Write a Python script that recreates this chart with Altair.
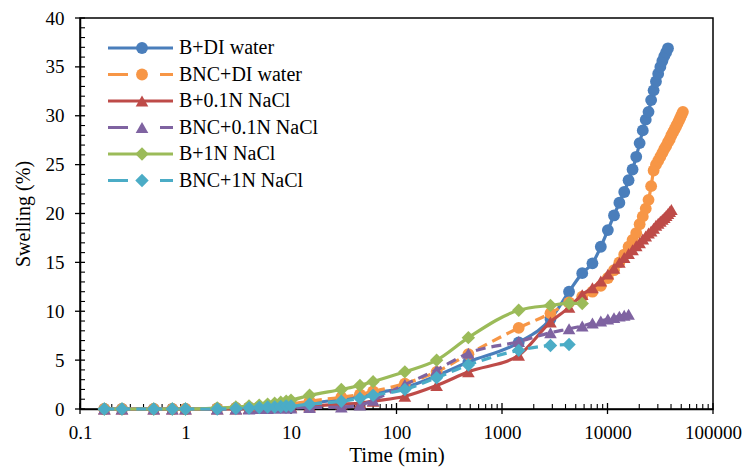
import altair as alt
import pandas as pd

# ---------------- data ----------------
series_names = ["B+DI water", "BNC+DI water", "B+0.1N NaCl",
                "BNC+0.1N NaCl", "B+1N NaCl", "BNC+1N NaCl"]

early_t = [0.17, 0.25, 0.5, 0.75, 1, 2, 3, 4, 5, 6, 7, 8, 9, 10,
           15, 30, 45, 60, 120, 240, 480]
days_min = [1440, 2880, 4320, 5760, 7200, 8640, 10080, 11520, 12960, 14400,
            15840, 17280, 18720, 20160, 21600, 23040, 24480, 25920, 27360, 28800,
            30240, 31680, 33120, 34560, 36000, 37440, 38880, 40320, 41760, 43200,
            44640, 46080, 47520, 48960, 50400, 51840]

b_di_early = [0, 0, 0, 0, 0, 0.05, 0.1, 0.15, 0.2, 0.25, 0.3, 0.35, 0.4, 0.45,
              0.6, 1.0, 1.3, 1.6, 2.2, 3.4, 4.8]
b_di_days = [6.8, 9.2, 12.0, 13.9, 14.9, 16.6, 18.3, 19.8, 21.1, 22.2, 23.4,
             24.5, 25.8, 27.2, 28.5, 29.6, 30.4, 31.6, 32.6, 33.5, 34.3, 35.0,
             35.6, 36.1, 36.5, 36.9]

bnc_di_early = [0, 0, 0, 0, 0, 0.05, 0.1, 0.15, 0.2, 0.3, 0.35, 0.4, 0.45, 0.5,
                0.8, 1.2, 1.5, 1.8, 2.6, 3.8, 5.6]
bnc_di_days = [8.3, 9.8, 10.9, 11.5, 12.0, 12.6, 13.4, 14.2, 15.0, 15.8, 16.6,
               17.3, 18.0, 18.9, 19.7, 20.5, 21.4, 22.8, 24.4, 25.0, 25.4, 25.8,
               26.2, 26.6, 26.9, 27.3, 27.6, 28.0, 28.3, 28.6, 28.9, 29.2, 29.5,
               29.8, 30.1, 30.4]

b_01_early = [0, 0, 0, 0, 0, 0, 0, 0.05, 0.1, 0.1, 0.15, 0.15, 0.2, 0.2,
              0.3, 0.5, 0.6, 0.8, 1.3, 2.4, 3.8]
b_01_days = [5.5, 8.9, 10.4, 11.7, 12.4, 13.1, 13.8, 14.4, 15.0, 15.5, 15.9,
             16.3, 16.7, 17.0, 17.4, 17.7, 18.0, 18.2, 18.5, 18.8, 19.0, 19.2,
             19.4, 19.6, 19.8, 20.0, 20.2, 20.4]

bnc_01_early = [0, 0, 0, 0, 0, 0, 0, 0, 0.05, 0.05, 0.1, 0.1, 0.1, 0.1,
                0.15, 0.2, 0.4, 0.9, 2.5, 4.0, 5.7]
bnc_01_days = [6.9, 7.8, 8.2, 8.5, 8.8, 9.0, 9.2, 9.35, 9.5, 9.6, 9.7]

b_1_early = [0, 0, 0, 0, 0, 0.1, 0.2, 0.3, 0.4, 0.5, 0.6, 0.7, 0.8, 0.9,
             1.4, 2.0, 2.4, 2.8, 3.8, 5.0, 7.3]
b_1_days = [10.1, 10.6, 10.8, 10.8]

bnc_1_early = [0, 0, 0, 0, 0, 0, 0.05, 0.1, 0.15, 0.2, 0.2, 0.25, 0.3, 0.3,
               0.5, 0.8, 1.1, 1.4, 2.0, 3.2, 4.5]
bnc_1_days = [6.0, 6.5, 6.6]

series_values = [
    b_di_early + b_di_days,
    bnc_di_early + bnc_di_days,
    b_01_early + b_01_days,
    bnc_01_early + bnc_01_days,
    b_1_early + b_1_days,
    bnc_1_early + bnc_1_days,
]

x_tick_values = [0.1, 1, 10, 100, 1000, 10000, 100000]
y_tick_values = [0, 5, 10, 15, 20, 25, 30, 35, 40]
y_minor_values = [v for v in range(1, 40) if v % 5 != 0]
x_minor_values = [m * d for d in [0.1, 1, 10, 100, 1000, 10000] for m in range(2, 10)]

# ---------------- styles ----------------
colors = ["#4A7EBB", "#F79646", "#BE4B48", "#7F63A1", "#9BBB59", "#4BACC6"]
shapes = ["circle", "circle", "triangle-up", "triangle-up", "diamond", "diamond"]
sizes = [140, 140, 160, 160, 180, 180]
dashed = [False, True, False, True, False, True]

FONT = "Times New Roman, Liberation Serif, serif"
W, H = 633, 391

xscale = alt.Scale(type="log", domain=[0.1, 100000], nice=False)
yscale = alt.Scale(domain=[0, 40], nice=False, zero=False)

xaxis = alt.Axis(values=x_tick_values, grid=False, ticks=False, title="Time (min)",
                 labelExpr="datum.value < 1 ? '0.1' : format(datum.value, 'd')",
                 labelFont=FONT, labelFontSize=19, labelColor="black",
                 titleFont=FONT, titleFontSize=21, titleFontWeight="normal",
                 titleColor="black", labelPadding=14, titlePadding=2,
                 domainColor="black", domainWidth=1.5, labelFlush=False,
                 labelOverlap=False)
yaxis = alt.Axis(values=y_tick_values, grid=False, ticks=False, title="Swelling (%)",
                 labelFont=FONT, labelFontSize=19, labelColor="black",
                 titleFont=FONT, titleFontSize=20, titleFontWeight="normal",
                 titleColor="black", labelPadding=16, titlePadding=12,
                 domainColor="black", domainWidth=1.5, labelFlush=False,
                 labelOverlap=False)


def enc_xy():
    return dict(x=alt.X("t:Q", scale=xscale, axis=xaxis),
                y=alt.Y("v:Q", scale=yscale, axis=yaxis))


layers = []

# tick marks (crossing majors, inward minors)
layers.append(alt.Chart(pd.DataFrame({"v": y_tick_values})).mark_rule(
    color="black", strokeWidth=1.3).encode(
    y=alt.Y("v:Q", scale=yscale, axis=yaxis), x=alt.value(-5), x2=alt.value(5)))
layers.append(alt.Chart(pd.DataFrame({"v": y_minor_values})).mark_rule(
    color="black", strokeWidth=1.1).encode(
    y=alt.Y("v:Q", scale=yscale, axis=yaxis), x=alt.value(0), x2=alt.value(5)))
layers.append(alt.Chart(pd.DataFrame({"t": x_tick_values})).mark_rule(
    color="black", strokeWidth=1.3).encode(
    x=alt.X("t:Q", scale=xscale, axis=xaxis), y=alt.value(H - 6), y2=alt.value(H + 5)))
layers.append(alt.Chart(pd.DataFrame({"t": x_minor_values})).mark_rule(
    color="black", strokeWidth=1.1).encode(
    x=alt.X("t:Q", scale=xscale, axis=xaxis), y=alt.value(H - 5), y2=alt.value(H)))

# series
for i, name in enumerate(series_names):
    vals = series_values[i]
    times = (early_t + days_min)[:len(vals)]
    df = pd.DataFrame({"t": times, "v": vals})
    base = alt.Chart(df)
    line_kw = dict(color=colors[i], strokeWidth=3.2, interpolate="monotone", clip=False)
    if dashed[i]:
        line_kw["strokeDash"] = [10, 6]
    layers.append(base.mark_line(**line_kw).encode(**enc_xy()))
    layers.append(base.mark_point(shape=shapes[i], filled=True, size=sizes[i],
                                  color=colors[i], opacity=1, clip=False)
                  .encode(**enc_xy()))

# legend (top-left inside plot)
for i, name in enumerate(series_names):
    ly = 30 + 26.5 * i
    ldf = pd.DataFrame({"name": [name]})
    rule_kw = dict(color=colors[i], strokeWidth=3.2)
    if dashed[i]:
        rule_kw["strokeDash"] = [20, 32]
    layers.append(alt.Chart(ldf).mark_rule(**rule_kw).encode(
        x=alt.value(28), x2=alt.value(93), y=alt.value(ly)))
    layers.append(alt.Chart(ldf).mark_point(shape=shapes[i], filled=True, size=sizes[i],
                                            color=colors[i], opacity=1).encode(
        x=alt.value(62), y=alt.value(ly)))
    layers.append(alt.Chart(ldf).mark_text(align="left", baseline="middle", font=FONT,
                                           fontSize=20, color="black").encode(
        x=alt.value(99), y=alt.value(ly), text="name:N"))

chart = alt.layer(*layers).properties(
    width=W, height=H,
    padding={"left": 80, "top": 18, "right": 33, "bottom": 60},
    autosize=alt.AutoSizeParams(type="none"),
    background="white",
).configure_view(stroke="black", strokeWidth=1.5)

chart.save("out.html", embed_options={"renderer": "svg", "actions": False})
